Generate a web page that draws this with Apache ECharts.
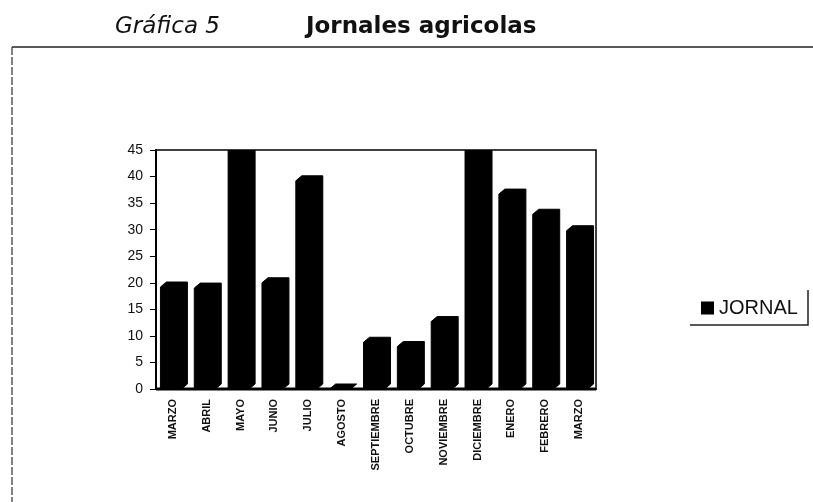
<!DOCTYPE html>
<html>
<head>
<meta charset="utf-8">
<script src="https://cdn.jsdelivr.net/npm/echarts@6/dist/echarts.min.js"></script>
<style>
html,body{margin:0;padding:0;background:#fff;}
#c{width:813px;height:502px;}
</style>
</head>
<body>
<div id="c"></div>
<script>
var categories = ['MARZO','ABRIL','MAYO','JUNIO','JULIO','AGOSTO','SEPTIEMBRE','OCTUBRE','NOVIEMBRE','DICIEMBRE','ENERO','FEBRERO','MARZO'];
var jornal = [19.2, 19.0, 47, 20.0, 39.2, 0, 8.8, 8.0, 12.7, 47, 36.7, 32.9, 29.8];
var yTicks = [0, 5, 10, 15, 20, 25, 30, 35, 40, 45];

var DX = 6, DY = 5;
var chart = echarts.init(document.getElementById('c'), null, {renderer: 'canvas'});
var option = {
  animation: false,
  backgroundColor: '#fff',
  title: [
    {text: 'Gráfica 5', left: 110, top: 11,
     textStyle: {fontFamily: 'DejaVu Sans', fontSize: 23, fontStyle: 'italic', fontWeight: 'normal', color: '#111'}},
    {text: 'Jornales agricolas', left: 301, top: 11,
     textStyle: {fontFamily: 'DejaVu Sans', fontSize: 23, fontWeight: 'bold', color: '#111'}}
  ],
  graphic: [
    {type: 'line', shape: {x1: 12, y1: 47, x2: 813, y2: 47}, style: {stroke: '#222', lineWidth: 1.5}},
    {type: 'line', shape: {x1: 12, y1: 47, x2: 12, y2: 502}, style: {stroke: '#333', lineWidth: 1.2, lineDash: [8, 2]}},
    {type: 'line', shape: {x1: 156, y1: 389, x2: 596, y2: 389}, style: {stroke: '#000', lineWidth: 3}, z: 0},
    {type: 'polyline', shape: {points: [[690, 325], [808, 325], [808, 290]]}, style: {stroke: '#222', fill: null, lineWidth: 1.5}}
  ],
  legend: {
    data: ['JORNAL'],
    left: 697, top: 296,
    orient: 'vertical',
    icon: 'rect', itemWidth: 13, itemHeight: 13, itemGap: 4,
    padding: [2, 4, 2, 4],
    textStyle: {fontFamily: 'Liberation Sans', fontSize: 20, color: '#111'}
  },
  grid: {left: 156, right: 217, top: 150, bottom: 113, show: true, borderColor: '#000', borderWidth: 1.5, backgroundColor: '#fff'},
  xAxis: {
    type: 'category', data: categories,
    axisLine: {show: true, lineStyle: {color: '#000', width: 2}},
    axisTick: {show: false},
    axisLabel: {rotate: 90, margin: 10, interval: 0, fontFamily: 'Liberation Sans', fontWeight: 'bold', fontSize: 11, color: '#111'}
  },
  yAxis: {
    type: 'value', min: 0, max: 45, interval: 5,
    axisLine: {show: true, lineStyle: {color: '#000', width: 2}},
    axisTick: {show: true, length: 6, lineStyle: {color: '#000'}},
    splitLine: {show: false},
    axisLabel: {margin: 13, fontFamily: 'Liberation Sans', fontSize: 14, color: '#111',
      formatter: function (v) { return yTicks.indexOf(v) >= 0 ? String(v) : ''; }}
  },
  series: [{
    name: 'JORNAL',
    type: 'custom',
    clip: true,
    itemStyle: {color: '#000'},
    encode: {x: 0, y: 1},
    data: jornal.map(function (v, i) { return [i, v]; }),
    renderItem: function (params, api) {
      var i = api.value(0), v = api.value(1);
      var base = api.coord([i, 0]);
      var top = api.coord([i, v]);
      var w = api.size([1, 0])[0] * 0.62;
      var x0 = base[0] - w / 2 - DX / 2 + 1;
      var x1 = x0 + w;
      var cs = params.coordSys;
      var pts = [[x0, base[1]], [x0, top[1]], [x0 + DX, top[1] - DY], [x1 + DX, top[1] - DY], [x1 + DX, base[1] - DY], [x1, base[1]]];
      var shape = echarts.graphic.clipPointsByRect(pts, {x: cs.x, y: cs.y, width: cs.width, height: cs.height});
      return {type: 'polygon', shape: {points: shape}, style: {fill: '#000', stroke: '#000'}};
    }
  }]
};
chart.setOption(option);
</script>
</body>
</html>
